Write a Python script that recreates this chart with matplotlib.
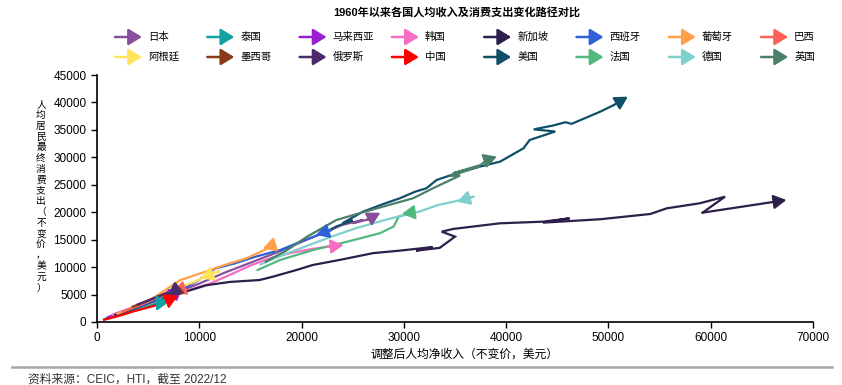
import matplotlib
matplotlib.use('Agg')
import matplotlib.pyplot as plt
import matplotlib.patches as mpatches

plt.rcParams['font.family'] = ['Liberation Sans', 'Noto Sans CJK SC', 'DejaVu Sans']

# 国家与颜色（图例顺序）
countries = ['日本', '泰国', '马来西亚', '韩国', '新加坡', '西班牙', '葡萄牙', '巴西',
             '阿根廷', '墨西哥', '俄罗斯', '中国', '美国', '法国', '德国', '英国']
colors = ['#8a4f9a', '#13a0a0', '#9a1fd0', '#f56ec4', '#2d1f4a', '#2f60d8', '#ffa04a', '#ff6058',
          '#ffe45c', '#8b3a1a', '#4a2a6a', '#ff0000', '#0f5068', '#52b87e', '#7fcfcc', '#4a806a']

# 调整后人均净收入 (x) / 人均居民最终消费支出 (y)
jp_x = [3000, 5000, 7500, 10000, 12500, 15000, 17500, 20000, 22800, 24000, 26000, 25000, 27000, 26500, 27700]
jp_y = [2200, 3500, 5200, 7000, 9000, 10800, 12600, 14600, 16760, 17700, 18600, 18000, 18900, 18700, 19900]
th_x = [700, 1500, 2500, 3500, 4500, 5500, 6200, 5800]
th_y = [500, 1000, 1500, 2100, 2600, 3200, 3600, 2000]
my_x = [1000, 1800, 2800, 4000, 5200, 6200, 7500, 6800]
my_y = [800, 1500, 2100, 2900, 3700, 4500, 5400, 5900]
kr_x = [1500, 2500, 4000, 6000, 8500, 10900, 13000, 15000, 16900, 19000, 21000, 22500, 24100]
kr_y = [1300, 2000, 3000, 4200, 5600, 6900, 8600, 10300, 11600, 12600, 13300, 13700, 14000]
sg_x = [1800, 3500, 5500, 8100, 10700, 13000, 15900, 17200, 19500, 21100, 23700, 27000, 29600,
        32800, 31200, 33500, 35000, 33700, 34800, 39400, 43600, 46200, 43600, 49200, 54100,
        55700, 58900, 61400, 59200, 67400]
sg_y = [1300, 2400, 3700, 5200, 6700, 7300, 7650, 8260, 9470, 10390, 11300, 12550, 13000,
        13650, 13000, 13500, 15550, 16460, 16950, 17980, 18280, 18890, 18100, 18720, 19680,
        20710, 21620, 22830, 19920, 22230]
es_x = [3500, 5500, 8000, 10000, 11500, 13500, 15500, 17900, 20000, 22900, 21400]
es_y = [2500, 3800, 5600, 7700, 9700, 10700, 11900, 13100, 14700, 16760, 15850]
pt_x = [2000, 3500, 5000, 6500, 8100, 10500, 12500, 14600, 16000, 17400, 16200]
pt_y = [1500, 2600, 3800, 5600, 7600, 9100, 10400, 11600, 12800, 14100, 13400]
br_x = [2500, 3500, 4500, 5500, 6500, 7500, 8200, 7400]
br_y = [1900, 2600, 3300, 4100, 4800, 5400, 5900, 5300]
ar_x = [7000, 8000, 9500, 11000, 12000, 10900, 10100]
ar_y = [5500, 6300, 7300, 8600, 9300, 8500, 7900]
mx_x = [3500, 5000, 6500, 7500, 8300, 7800, 7600]
mx_y = [2800, 3900, 5100, 5900, 6300, 5700, 7400]
ru_x = [4000, 5500, 7000, 7800, 6500, 7600, 6900]
ru_y = [3200, 4300, 5300, 5800, 4900, 5700, 4800]
cn_x = [700, 1500, 2500, 3500, 4500, 5500, 6300, 7100, 7000]
cn_y = [400, 800, 1300, 1900, 2400, 2900, 3400, 4100, 2400]
us_x = [22500, 23400, 25000, 24000, 26000, 28000, 29600, 31100, 32200, 33200, 36100, 39400,
        41700, 42300, 44800, 42700, 44600, 45800, 46400, 49200, 50500, 51900]
us_y = [16500, 17400, 18500, 18000, 20100, 21500, 22540, 23740, 24360, 25870, 27700, 29210,
        31650, 33160, 34700, 35100, 35800, 36400, 36100, 38320, 39500, 41050]
fr_x = [15700, 17900, 21100, 24400, 27700, 29000, 29500, 31000, 29800]
fr_y = [9470, 11300, 13100, 14600, 16200, 17400, 19200, 20000, 19700]
de_x = [16000, 17500, 19000, 21000, 23000, 25500, 28000, 29600, 31500, 33300, 34800, 36800, 35200]
de_y = [10500, 11700, 12800, 14200, 15600, 17200, 18500, 19300, 20100, 21300, 21900, 22830, 21900]
uk_x = [16500, 18500, 20500, 23400, 26000, 28500, 30900, 33000, 35500, 34500, 37400, 34800, 37500, 38100, 39100]
uk_y = [11000, 13000, 15500, 18580, 20000, 21300, 22540, 24500, 26700, 26600, 28300, 27100, 28600, 29500, 30120]

paths = [(jp_x, jp_y), (th_x, th_y), (my_x, my_y), (kr_x, kr_y), (sg_x, sg_y), (es_x, es_y),
         (pt_x, pt_y), (br_x, br_y), (ar_x, ar_y), (mx_x, mx_y), (ru_x, ru_y), (cn_x, cn_y),
         (us_x, us_y), (fr_x, fr_y), (de_x, de_y), (uk_x, uk_y)]

fig = plt.figure(figsize=(8.42, 3.85), dpi=100)
ax = fig.add_axes([97/842, 1 - 322/385, (813-97)/842, (322-75)/385])

for (xs, ys), c in zip(paths, colors):
    ax.plot(xs[:-1], ys[:-1], color=c, lw=1.6, solid_joinstyle='miter')
    ax.annotate('', xy=(xs[-1], ys[-1]), xytext=(xs[-2], ys[-2]),
                arrowprops=dict(arrowstyle='-|>,head_length=0.9,head_width=0.5',
                                color=c, lw=1.6, mutation_scale=8.5,
                                shrinkA=0, shrinkB=0))

ax.set_xlim(0, 70000)
ax.set_ylim(0, 45000)
ax.set_xticks(range(0, 70001, 10000))
ax.set_yticks(range(0, 45001, 5000))
ax.tick_params(labelsize=8.5, direction='out', length=4, width=1)
for s in ['top', 'right']:
    ax.spines[s].set_visible(False)
for s in ['left', 'bottom']:
    ax.spines[s].set_linewidth(1.2)

# 图例：两行八列
for i, (name, c) in enumerate(zip(countries, colors)):
    x0 = 115 + 92.3 * (i % 8)
    y0 = 37 + 20 * (i // 8)
    fig.add_artist(mpatches.FancyArrowPatch(
        (x0 / 842, 1 - y0 / 385), ((x0 + 27) / 842, 1 - y0 / 385),
        transform=fig.transFigure, arrowstyle='-|>,head_length=0.9,head_width=0.55',
        mutation_scale=9, color=c, lw=1.8, shrinkA=0, shrinkB=0))
    fig.text((x0 + 33) / 842, 1 - y0 / 385, name, fontsize=7.5, va='center', ha='left')

fig.text(457 / 842, 1 - 12 / 385, '1960年以来各国人均收入及消费支出变化路径对比',
         fontsize=8, fontweight='bold', ha='center', va='center')

ylabel = '人均居民最终消费支出（不变价，美元）'
fig.text(41 / 842, 1 - 196 / 385, '\n'.join(ylabel), fontsize=7, ha='center', va='center',
         linespacing=1.1)
fig.text(465 / 842, 1 - 355 / 385, '调整后人均净收入（不变价，美元）', fontsize=8.5,
         ha='center', va='center')

fig.add_artist(plt.Line2D([12 / 842, 832 / 842], [1 - 367 / 385, 1 - 367 / 385],
                          transform=fig.transFigure, color='#a6a6a6', lw=1.8))
fig.text(28 / 842, 1 - 380 / 385, '资料来源：CEIC，HTI，截至 2022/12', fontsize=8.5,
         ha='left', va='center', color='#333333')

plt.savefig('out.png', dpi=100)
plt.close()
